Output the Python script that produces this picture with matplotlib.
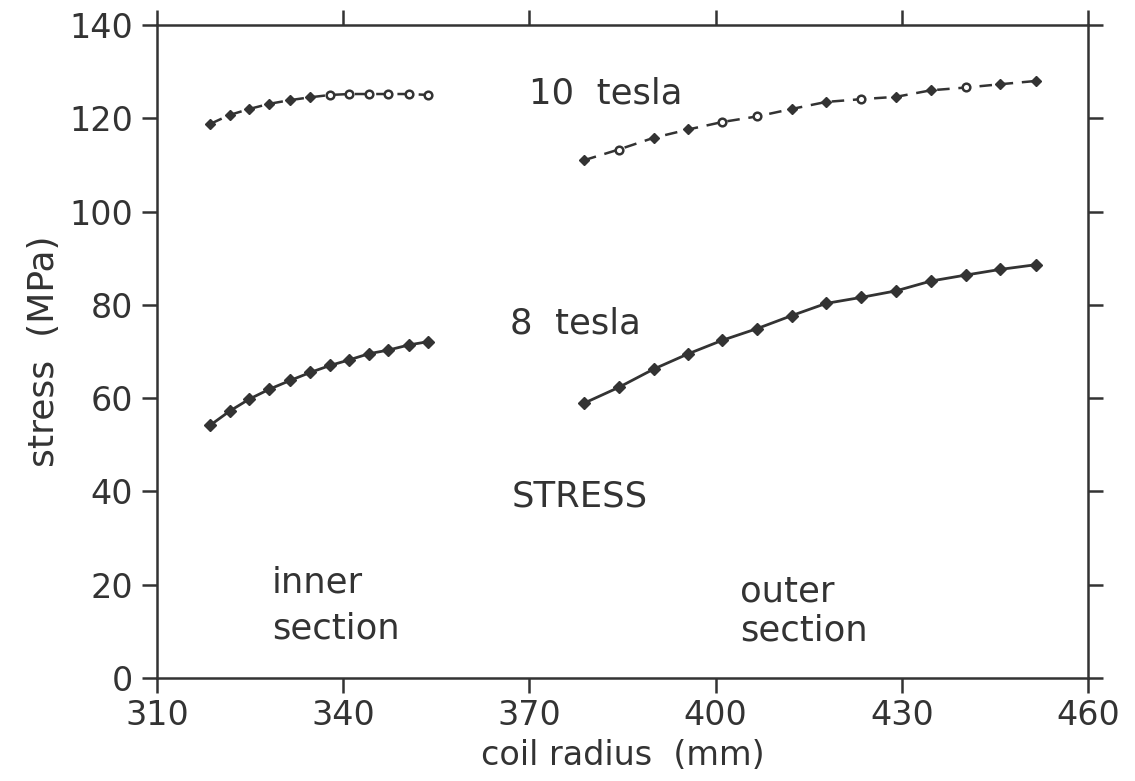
import numpy as np
import matplotlib.pyplot as plt

# data
r_inner = [318.6, 321.7, 324.9, 328.1, 331.5, 334.7, 337.9, 341.0, 344.1, 347.3, 350.6, 353.7]
r_outer = [378.8, 384.4, 390.0, 395.6, 401.1, 406.7, 412.3, 417.8, 423.5, 429.1, 434.7, 440.4, 445.9, 451.6]

s8_inner = [54.2, 57.2, 59.8, 61.9, 63.8, 65.5, 67.0, 68.2, 69.5, 70.3, 71.4, 72.1]
s8_outer = [58.9, 62.3, 66.2, 69.5, 72.4, 74.9, 77.7, 80.3, 81.6, 83.0, 85.1, 86.4, 87.6, 88.6]
s10_inner = [118.8, 120.7, 122.0, 123.1, 123.9, 124.5, 125.0, 125.2, 125.2, 125.2, 125.2, 125.0]
s10_outer = [111.0, 113.3, 115.8, 117.6, 119.2, 120.4, 122.0, 123.5, 124.1, 124.6, 126.0, 126.6, 127.3, 128.0]

xticks = [310, 340, 370, 400, 430, 460]
yticks = [0, 20, 40, 60, 80, 100, 120, 140]

ink = '#333333'
plt.rcParams['font.family'] = ['DejaVu Sans']
plt.rcParams['text.color'] = ink

fig = plt.figure(figsize=(11.35, 7.81), dpi=100)
ax = fig.add_axes([0.1383, 0.132, 0.8203, 0.836])

# 8 tesla: solid with filled diamonds
for r, s in [(r_inner, s8_inner), (r_outer, s8_outer)]:
    ax.plot(r, s, '-', color=ink, lw=2.0, marker='D', ms=6, mfc=ink, mec=ink)

# 10 tesla: dashed with small diamonds, some appear hollow in the scan
hollow_in = [6, 7, 8, 9, 10, 11]
hollow_out = [1, 4, 5, 8, 11]
for r, s, hol in [(r_inner, s10_inner, hollow_in), (r_outer, s10_outer, hollow_out)]:
    ax.plot(r, s, '--', color=ink, lw=1.8, dashes=(5, 3.5))
    r = np.array(r)
    s = np.array(s)
    filled = [i for i in range(len(r)) if i not in hol]
    ax.plot(r[filled], s[filled], 'D', color=ink, ms=5.5)
    ax.plot(r[hol], s[hol], 'o', mfc='white', mec=ink, mew=1.8, ms=5.5)

fs = 24
fa = 25.5
ax.text(370.0, 125.4, '10  tesla', fontsize=fa, va='center', color=ink)
ax.text(366.9, 76.1, '8  tesla', fontsize=fa, va='center', color=ink)
ax.text(367.2, 39.0, 'STRESS', fontsize=fa, va='center', color=ink)
ax.text(328.5, 15.6, 'inner\nsection', fontsize=fa, va='center', color=ink, linespacing=1.45)
ax.text(404.0, 14.4, 'outer\nsection', fontsize=fa, va='center', color=ink, linespacing=1.2)

ax.set_xlim(310, 460)
ax.set_ylim(0, 140)
ax.set_xticks(xticks)
ax.set_yticks(yticks)
ax.tick_params(direction='out', length=11, width=1.8, colors=ink, labelsize=fs,
               top=True, right=True, pad=4)
ax.tick_params(axis='y', pad=6)
for sp in ax.spines.values():
    sp.set_linewidth(1.8)
    sp.set_color(ink)

ax.set_xlabel('coil radius  (mm)', fontsize=fs, color=ink, labelpad=5)
ax.set_ylabel('stress  (MPa)', fontsize=26, color=ink, labelpad=6)

fig.savefig('out.png', dpi=100, facecolor='white')
